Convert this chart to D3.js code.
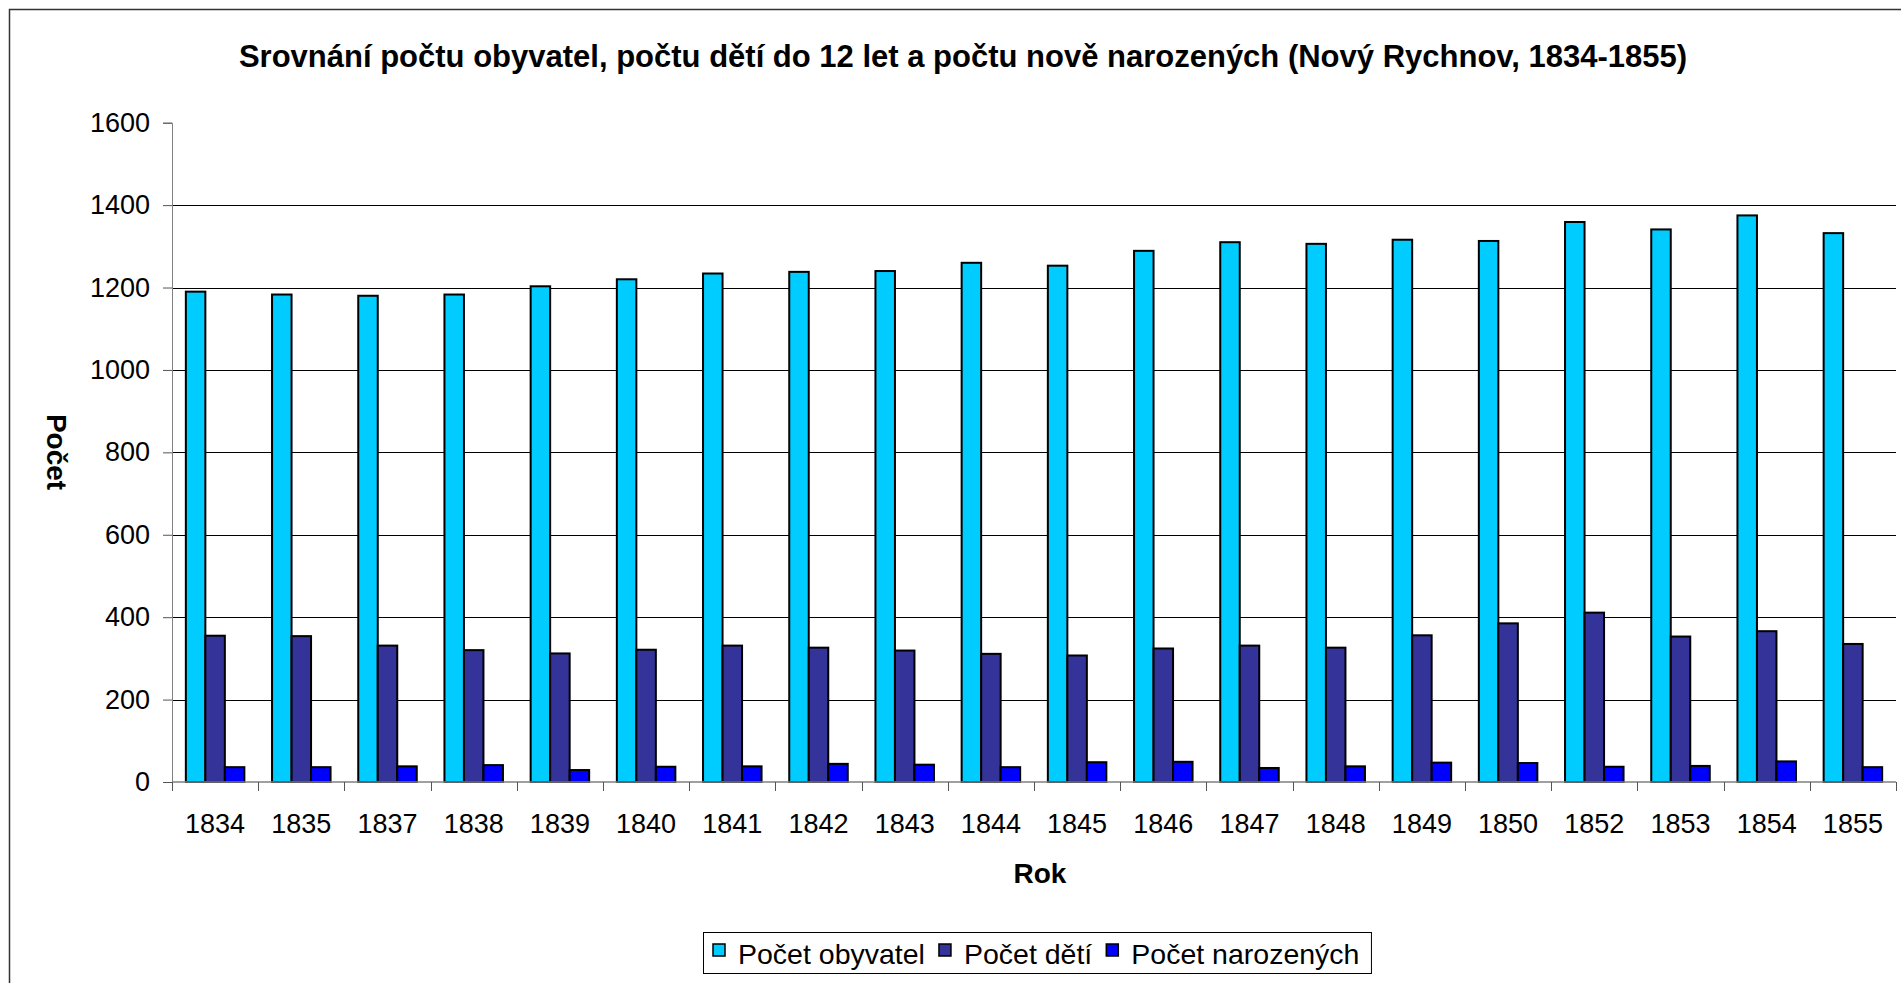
<!DOCTYPE html>
<html>
<head>
<meta charset="utf-8">
<script src="https://cdn.jsdelivr.net/npm/d3@7"></script>
<style>
  body { margin: 0; background: #fff; }
  svg { display: block; font-family: "Liberation Sans", Arial, sans-serif; }
</style>
</head>
<body>
<div id="chart"></div>
<script>
const years = ['1834', '1835', '1837', '1838', '1839', '1840', '1841', '1842', '1843', '1844',
  '1845', '1846', '1847', '1848', '1849', '1850', '1852', '1853', '1854', '1855'];

const obyvatel = [1190, 1183, 1180, 1183, 1203, 1220, 1234, 1238, 1240, 1260,
  1253, 1289, 1310, 1306, 1316, 1313, 1359, 1341, 1375, 1332];
const deti = [355, 354, 331, 320, 312, 321, 331, 326, 319, 311,
  307, 324, 331, 326, 356, 385, 411, 353, 366, 335];
const narozenych = [36, 36, 38, 41, 29, 37, 38, 44, 42, 36,
  48, 49, 34, 38, 47, 46, 37, 39, 50, 36];

const seriesNames = ['Počet obyvatel', 'Počet dětí', 'Počet narozených'];
const seriesColors = ['#00ccff', '#333399', '#0000ff'];
const yTicks = [0, 200, 400, 600, 800, 1000, 1200, 1400, 1600];

const title = 'Srovnání počtu obyvatel, počtu dětí do 12 let a počtu nově narozených (Nový Rychnov, 1834-1855)';

const width = 1901, height = 983;
const plot = { left: 172, right: 1896, top: 122.7, bottom: 782 };

const seriesData = [obyvatel, deti, narozenych];

const svg = d3.select('#chart').append('svg')
  .attr('width', width)
  .attr('height', height);

// outer chart border (right / bottom edges fall outside the picture)
svg.append('rect')
  .attr('x', 9.5).attr('y', 9.5)
  .attr('width', 1910).attr('height', 1000)
  .attr('fill', '#fff')
  .attr('stroke', '#333')
  .attr('stroke-width', 1.5);

const x0 = d3.scaleBand().domain(years).range([plot.left, plot.right]).padding(0);
const x1 = d3.scaleBand().domain(d3.range(seriesNames.length))
  .range([0, x0.bandwidth()]).paddingInner(0).paddingOuter(0.71);
const y = d3.scaleLinear().domain([0, 1600]).range([plot.bottom, plot.top]);

// gridlines
svg.append('g')
  .selectAll('line')
  .data(yTicks.filter(t => t > 0 && t < 1600))
  .join('line')
  .attr('x1', plot.left).attr('x2', plot.right)
  .attr('y1', d => Math.round(y(d)) + 0.5).attr('y2', d => Math.round(y(d)) + 0.5)
  .attr('stroke', '#000')
  .attr('stroke-width', 1);

// bars
const groups = svg.append('g')
  .selectAll('g')
  .data(years)
  .join('g')
  .attr('transform', d => `translate(${x0(d)},0)`);

groups.selectAll('rect')
  .data((d, i) => seriesData.map((s, k) => ({ k, v: s[i] })))
  .join('rect')
  .attr('x', d => x1(d.k))
  .attr('y', d => y(d.v))
  .attr('width', x1.bandwidth())
  .attr('height', d => y(0) - y(d.v))
  .attr('fill', d => seriesColors[d.k])
  .attr('stroke', '#000')
  .attr('stroke-width', 2);

// y axis
const yAxis = svg.append('g')
  .attr('transform', `translate(${plot.left},0)`)
  .call(d3.axisLeft(y).tickValues(yTicks).tickSize(9).tickPadding(13).tickFormat(d3.format('d')));
yAxis.select('.domain').attr('stroke', '#808080');
yAxis.selectAll('.tick line').attr('stroke', '#555');
yAxis.selectAll('text')
  .attr('font-size', 27)
  .attr('fill', '#000')
  .attr('font-family', '"Liberation Sans", Arial, sans-serif');

// x axis labels
const xAxis = svg.append('g')
  .attr('transform', `translate(0,${plot.bottom})`)
  .call(d3.axisBottom(x0).tickSize(0).tickPadding(32));
xAxis.select('.domain').remove();
xAxis.selectAll('text')
  .attr('font-size', 27)
  .attr('fill', '#000')
  .attr('font-family', '"Liberation Sans", Arial, sans-serif');

// x axis line and boundary ticks
svg.append('line')
  .attr('x1', plot.left).attr('x2', plot.right)
  .attr('y1', plot.bottom).attr('y2', plot.bottom)
  .attr('stroke', '#808080').attr('stroke-width', 1.5);

svg.append('g')
  .selectAll('line')
  .data(years.map(d => x0(d)).concat([plot.right]))
  .join('line')
  .attr('x1', d => Math.round(d) + 0.5).attr('x2', d => Math.round(d) + 0.5)
  .attr('y1', plot.bottom).attr('y2', plot.bottom + 9)
  .attr('stroke', '#555');

// title
svg.append('text')
  .attr('x', 963).attr('y', 67)
  .attr('text-anchor', 'middle')
  .attr('font-size', 31)
  .attr('font-weight', 'bold')
  .text(title);

// axis titles
svg.append('text')
  .attr('transform', 'translate(47,452) rotate(90)')
  .attr('text-anchor', 'middle')
  .attr('font-size', 28)
  .attr('font-weight', 'bold')
  .text('Počet');

svg.append('text')
  .attr('x', 1040).attr('y', 883)
  .attr('text-anchor', 'middle')
  .attr('font-size', 28)
  .attr('font-weight', 'bold')
  .text('Rok');

// legend
const legend = svg.append('g');
const legendBox = legend.append('rect')
  .attr('y', 932.5).attr('height', 41)
  .attr('fill', '#fff')
  .attr('stroke', '#000')
  .attr('stroke-width', 1);

let lx = 713;
seriesNames.forEach((name, k) => {
  legend.append('rect')
    .attr('x', lx).attr('y', 944)
    .attr('width', 12).attr('height', 12)
    .attr('fill', seriesColors[k])
    .attr('stroke', '#000')
    .attr('stroke-width', 1.5);
  const t = legend.append('text')
    .attr('x', lx + 25).attr('y', 964)
    .attr('font-size', 28.5)
    .text(name);
  lx += 25 + t.node().getComputedTextLength() + 14;
});
legendBox.attr('x', 703.5).attr('width', lx - 14 + 12 - 703.5);
</script>
</body>
</html>
